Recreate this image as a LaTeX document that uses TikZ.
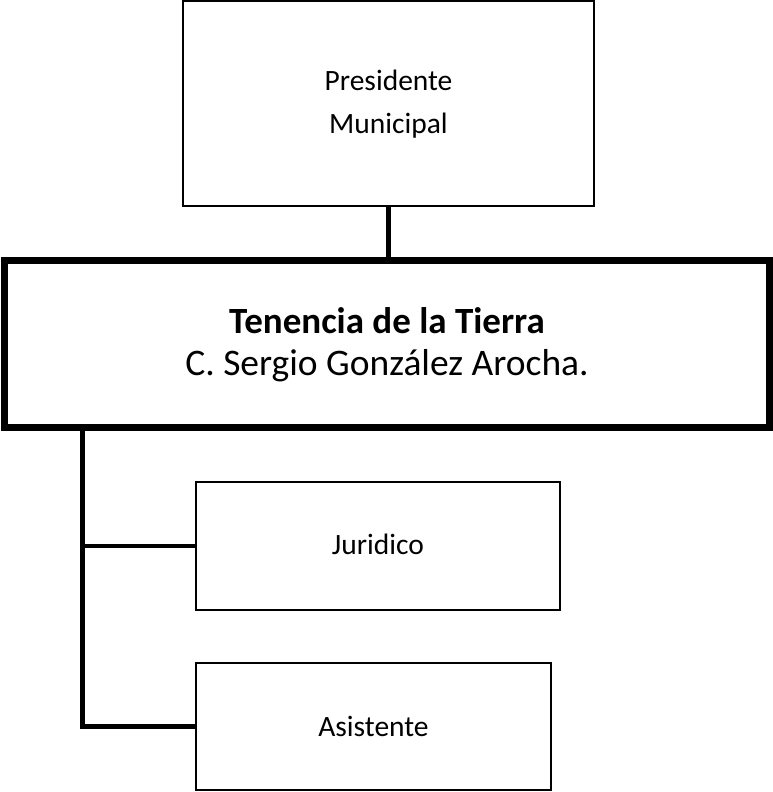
\documentclass[tikz,border=0pt]{standalone}
\usepackage{fontspec}
\setmainfont{Carlito}
\begin{document}
\begin{tikzpicture}[x=1pt,y=-1pt,
  thinbox/.style={draw=black, line width=2pt, fill=white, inner sep=0pt, align=center},
  mainbox/.style={draw=black, line width=7pt, fill=white, inner sep=0pt, align=center},
  link/.style={draw=black, line width=4.8pt}]
\useasboundingbox (0,0) rectangle (772,792);
\node[thinbox, minimum width=411pt, minimum height=205pt, text height=60pt, text depth=0.4pt,
      font=\fontsize{29.5}{43}\selectfont] (pres) at (388.5,103.2) {Presidente\\Municipal};
\node[mainbox, minimum width=765pt, minimum height=167pt, text height=62pt, text depth=0pt,
      font=\fontsize{37.5}{42}\selectfont] (ten) at (387,344)
  {{\bfseries\fontsize{37}{42}\selectfont Tenencia de la Tierra}\\C. Sergio González Arocha.};
\node[thinbox, minimum width=364pt, minimum height=128pt, text height=20pt, text depth=4pt,
      font=\fontsize{29.5}{36}\selectfont] (jur) at (378,546) {Juridico};
\node[thinbox, minimum width=355pt, minimum height=127pt, text height=20pt, text depth=1pt,
      font=\fontsize{29.5}{36}\selectfont] (asi) at (373.5,726.5) {Asistente};
\coordinate (t0) at (82.5,427.5);
\draw[link] (pres.south) -- (pres.south |- ten.north);
\draw[link, line join=miter] (t0) |- (asi.west);
\draw[link] (t0 |- jur.west) -- (jur.west);
\end{tikzpicture}
\end{document}
